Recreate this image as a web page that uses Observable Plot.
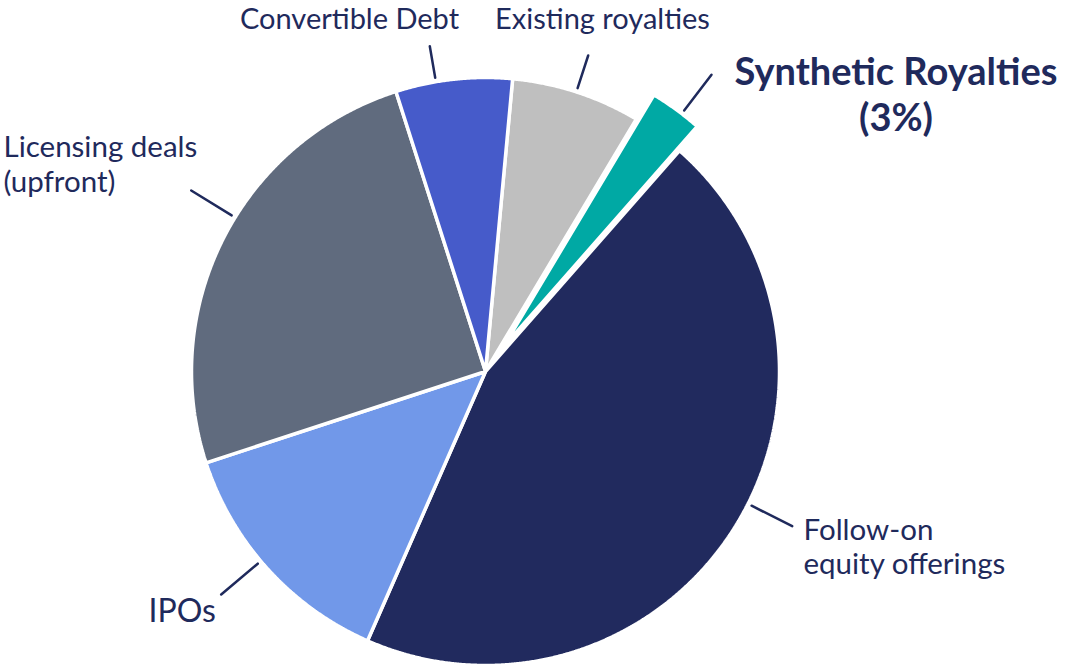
<!DOCTYPE html>
<html>
<head>
<meta charset="utf-8">
<script src="https://cdn.jsdelivr.net/npm/d3@7"></script>
<script src="https://cdn.jsdelivr.net/npm/@observablehq/plot@0.6"></script>
<style>
  html, body { margin: 0; padding: 0; background: #ffffff; }
  #chart svg { display: block; }
</style>
</head>
<body>
<div id="chart"></div>
<script>
// ---- data ----
const categories = ["Existing royalties", "Synthetic Royalties", "Follow-on equity offerings", "IPOs", "Licensing deals (upfront)", "Convertible Debt"];
const shares = [7.1, 2.9, 45.1, 13.4, 25.1, 6.4]; // percent
const labelLines = [["Existing royalties"], ["Synthetic Royalties", "(3%)"], ["Follow-on", "equity offerings"], ["IPOs"], ["Licensing deals", "(upfront)"], ["Convertible Debt"]];
const colors = ["#BFBFBF", "#00A9A4", "#212A5E", "#7198E9", "#606B7E", "#465BCA"];

// ---- layout / style ----
const W = 1066, H = 667;
const cx = 485, cy = 371, R = 294;
const startDeg = 5.3;
const explode = [0, 30, 0, 0, 0, 0];
const textColor = "#1F2A5C";
// label placement relative to pie centre (px): text anchor point, leader end
const labelLayout = [
  {anchor: "middle", tx: 117,  ty: -343, gap: 0,  size: 29, bold: false, ex: 102.7, ey: -316},
  {anchor: "middle", tx: 410.5, ty: -286.5, gap: 46, size: 38, bold: true, ex: 226, ey: -296.7},
  {anchor: "start",  tx: 318,  ty: 168,  gap: 34, size: 29.5, bold: false, ex: 306.7, ey: 154.7},
  {anchor: "start",  tx: -337, ty: 250,  gap: 0,  size: 32, bold: false, ex: -264.3, ey: 223},
  {anchor: "start",  tx: -482, ty: -214.3, gap: 35, size: 29.5, bold: false, ex: -294.3, ey: -181},
  {anchor: "middle", tx: -136, ty: -343, gap: 0,  size: 29, bold: false, ex: -55.7, ey: -325.3}
];

// ---- geometry from the data ----
const start = startDeg * Math.PI / 180;
const arcs = d3.pie().sort(null).startAngle(start).endAngle(start + 2 * Math.PI)(shares);

const polys = [];
const leaders = [];
const texts = [];
arcs.forEach((a, i) => {
  const mid = (a.startAngle + a.endAngle) / 2;
  const ox = cx + explode[i] * Math.sin(mid);
  const oy = cy - explode[i] * Math.cos(mid);
  const cat = categories[i];
  polys.push({cat, x: ox, y: oy});
  const steps = Math.max(2, Math.ceil((a.endAngle - a.startAngle) / (0.25 * Math.PI / 180)));
  for (let k = 0; k <= steps; k++) {
    const t = a.startAngle + (a.endAngle - a.startAngle) * k / steps;
    polys.push({cat, x: ox + R * Math.sin(t), y: oy - R * Math.cos(t)});
  }
  const L = labelLayout[i];
  // leader: radial from the slice edge toward the label
  const exA = cx + L.ex, eyA = cy + L.ey;
  const dx = exA - ox, dy = eyA - oy, d = Math.hypot(dx, dy);
  leaders.push({cat, x: ox + dx / d * (R + 4), y: oy + dy / d * (R + 4)});
  leaders.push({cat, x: exA, y: eyA});
  labelLines[i].forEach((line, j) => {
    texts.push({cat, text: line, x: cx + L.tx, y: cy + L.ty + j * L.gap, anchor: L.anchor, size: L.size, bold: L.bold});
  });
});

const textMark = (filter, anchor, bold) => Plot.text(texts.filter(filter), {
  x: "x", y: "y", text: "text", textAnchor: anchor, lineAnchor: "bottom",
  fontSize: "size", fontWeight: bold ? "bold" : "normal", fill: textColor,
  fontFamily: "Lato, 'Open Sans', sans-serif"
});

const plot = Plot.plot({
  width: W, height: H,
  marginTop: 0, marginRight: 0, marginBottom: 0, marginLeft: 0,
  x: {domain: [0, W], range: [0, W], axis: null},
  y: {domain: [0, H], range: [0, H], axis: null},
  color: {domain: categories, range: colors},
  marks: [
    Plot.line(polys, {x: "x", y: "y", z: "cat", fill: "cat", stroke: "#ffffff", strokeWidth: 3.5, curve: "linear-closed", strokeLinejoin: "miter"}),
    Plot.line(leaders, {x: "x", y: "y", z: "cat", stroke: textColor, strokeWidth: 2.5}),
    textMark(d => d.anchor === "middle" && !d.bold, "middle", false),
    textMark(d => d.anchor === "start" && !d.bold, "start", false),
    textMark(d => d.bold, "middle", true)
  ]
});
document.getElementById("chart").appendChild(plot);
</script>
</body>
</html>
